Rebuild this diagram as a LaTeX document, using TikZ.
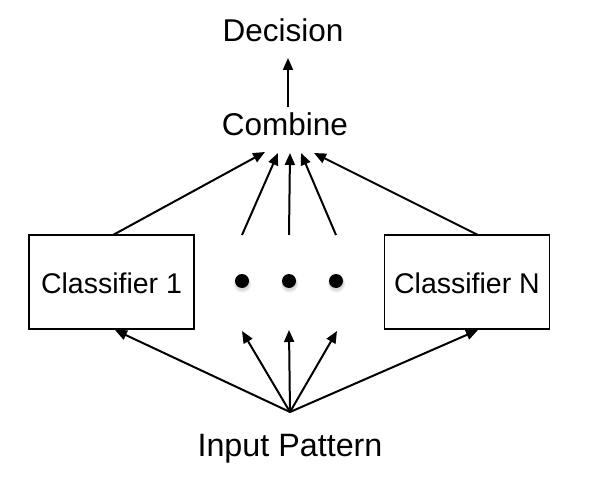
\documentclass[tikz,border=0pt]{standalone}
\usepackage{fontspec}
\setmainfont{Liberation Sans}
\usetikzlibrary{arrows.meta}
\begin{document}
\begin{tikzpicture}[x=1pt,y=-1pt,
  lbl/.style={inner sep=0pt,anchor=base,font=\fontsize{31.5}{36}\selectfont},
  clsbox/.style={draw,line width=1.5pt,minimum width=165pt,minimum height=94pt,inner sep=0pt},
  clstext/.style={inner sep=0pt,anchor=base,font=\fontsize{28.5}{34}\selectfont},
  dotnode/.style={circle,fill=black,minimum size=14pt,inner sep=0pt},
  arr/.style={line width=2pt,-{Triangle[length=12pt,width=10pt]}}]
\useasboundingbox (0,0) rectangle (597,487);
\node[lbl] (dec) at (283,42) {Decision};
\node[lbl] (comb) at (285,135) {Combine};
\node[clsbox] (c1) at (111.5,282) {};
\node[clstext] (t1) at (111.5,293) {Classifier 1};
\node[clsbox] (cn) at (467,282) {};
\node[clstext] (tn) at (467,293) {Classifier N};
\node[lbl,font=\fontsize{32.3}{38}\selectfont] (inp) at (290,456) {Input Pattern};
% dot shadows
\foreach \xx in {242,289,336}{
  \fill[black,opacity=0.08] (\xx+0.5,284) circle (8.5pt);
  \fill[black,opacity=0.08] (\xx+0.5,283) circle (7.5pt);
}
\node[dotnode] (d1) at (242,281) {};
\node[dotnode] (d2) at (289,281) {};
\node[dotnode] (d3) at (336,281) {};
% coordinates
\coordinate (decin) at (288,58);
\coordinate (combout) at (288,107);
\coordinate (ca) at (265,152);
\coordinate (cb) at (278,153);
\coordinate (cc) at (290,153);
\coordinate (cd) at (301,153);
\coordinate (ce) at (314,153);
\coordinate (u1) at (113,235);
\coordinate (ua) at (242,235);
\coordinate (ub) at (289,235);
\coordinate (uc) at (336,235);
\coordinate (uN) at (478,235);
\coordinate (src) at (290,412);
\coordinate (b1) at (115,330);
\coordinate (ba) at (242,331);
\coordinate (bb) at (289,330);
\coordinate (bc) at (337,331);
\coordinate (bN) at (478,330);
% connectors
\draw[arr] (combout) -- (decin);
\draw[arr] (u1) -- (ca);
\draw[arr] (ua) -- (cb);
\draw[arr] (ub) -- (cc);
\draw[arr] (uc) -- (cd);
\draw[arr] (uN) -- (ce);
\draw[arr] (src) -- (b1);
\draw[arr] (src) -- (ba);
\draw[arr] (src) -- (bb);
\draw[arr] (src) -- (bc);
\draw[arr] (src) -- (bN);
\end{tikzpicture}
\end{document}
